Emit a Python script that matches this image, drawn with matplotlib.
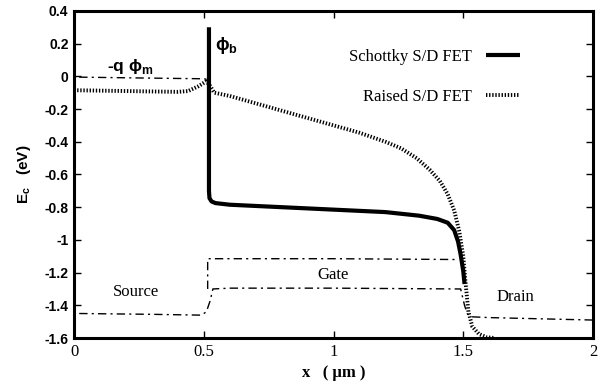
import matplotlib
matplotlib.use("Agg")
from matplotlib import pyplot as plt

# Schottky S/D FET conduction band
schottky_x = [0.52, 0.52, 0.522, 0.53, 0.545, 0.6, 0.8, 1.0, 1.2, 1.33, 1.40, 1.44, 1.465,
              1.48, 1.49, 1.50, 1.505]
schottky_y = [0.30, -0.70, -0.745, -0.765, -0.775, -0.785, -0.80, -0.815, -0.83, -0.852,
              -0.872, -0.895, -0.94, -1.01, -1.09, -1.19, -1.27]

# Raised S/D FET conduction band
raised_x = [0.0, 0.2, 0.40, 0.44, 0.48, 0.51, 0.525, 0.54, 0.6, 0.7, 0.8, 0.9, 1.0, 1.1,
            1.2, 1.26, 1.32, 1.37, 1.41, 1.44, 1.465, 1.485, 1.50, 1.51, 1.52, 1.535, 1.56,
            1.59, 1.62]
raised_y = [-0.085, -0.09, -0.095, -0.09, -0.06, -0.03, -0.06, -0.10, -0.12, -0.165, -0.21,
            -0.255, -0.30, -0.345, -0.40, -0.44, -0.50, -0.57, -0.64, -0.72, -0.82, -0.95,
            -1.10, -1.28, -1.44, -1.53, -1.575, -1.595, -1.60]

# metal work function level
phim_x = [0.02, 0.25, 0.50, 0.52]
phim_y = [-0.005, -0.01, -0.015, -0.02]

# device outline: source / channel / drain
outline_x = [0.02, 0.3, 0.49, 0.51, 0.525, 0.535, 0.6, 1.0, 1.49, 1.505, 1.515, 1.53, 1.6, 2.0]
outline_y = [-1.45, -1.455, -1.46, -1.44, -1.37, -1.30, -1.295, -1.295, -1.30, -1.40, -1.45,
             -1.47, -1.475, -1.49]

# gate outline
gate_x = [0.515, 0.515, 0.6, 1.0, 1.48]
gate_y = [-1.30, -1.115, -1.115, -1.115, -1.12]

xticks = [0, 0.5, 1, 1.5, 2]
xtick_labels = ["0", "0.5", "1", "1.5", "2"]
yticks = [0.4, 0.2, 0, -0.2, -0.4, -0.6, -0.8, -1, -1.2, -1.4, -1.6]
ytick_labels = ["0.4", "0.2", "0", "-0.2", "-0.4", "-0.6", "-0.8", "-1", "-1.2", "-1.4", "-1.6"]

serif = ["Liberation Serif", "DejaVu Serif"]
sans = ["Liberation Sans", "DejaVu Sans"]

fig = plt.figure(figsize=(6.02, 3.89), dpi=100)
ax = fig.add_axes([0.123, 0.131, 0.862, 0.841])

dashdot = (0, (6, 3, 1.5, 3))
ax.plot(phim_x, phim_y, color="black", lw=1.0, linestyle=dashdot)
ax.plot(outline_x, outline_y, color="black", lw=1.0, linestyle=dashdot)
ax.plot(gate_x, gate_y, color="black", lw=1.0, linestyle=dashdot)

ax.plot(schottky_x, schottky_y, color="black", lw=3.0, solid_capstyle="butt",
        label="Schottky S/D FET")
ax.plot(raised_x, raised_y, color="black", lw=2.8, linestyle=(0, (0.35, 0.45)),
        dash_capstyle="butt", label="Raised S/D FET")

ax.set_xlim(0, 2)
ax.set_ylim(-1.6, 0.4)
ax.set_xticks(xticks)
ax.set_xticklabels(xtick_labels, family=serif, fontsize=12)
ax.set_yticks(yticks)
ax.set_yticklabels(ytick_labels, family=sans, fontsize=10, fontweight="bold")
ax.tick_params(direction="in", length=5, width=1, top=True, right=True, pad=4)
for s in ax.spines.values():
    s.set_linewidth(2.2)

ax.set_xlabel("x   ( \u03bcm )", family=serif, fontsize=12, fontweight="bold")
ax.set_ylabel("E$_\\mathregular{c}$   (eV)", family=sans, fontsize=11, fontweight="bold",
              labelpad=8)

ax.text(0.215, 0.06, "-q \u03d5$_\\mathregular{m}$", family=sans, fontsize=12.5,
        fontweight="bold", ha="center", va="center")
ax.text(0.545, 0.19, "\u03d5$_\\mathregular{b}$", family=sans, fontsize=13,
        fontweight="bold", ha="left", va="center")
ax.text(0.24, -1.32, "Source", family=serif, fontsize=12, ha="center", va="center")
ax.text(1.0, -1.215, "Gate", family=serif, fontsize=12, ha="center", va="center")
ax.text(1.7, -1.35, "Drain", family=serif, fontsize=12, ha="center", va="center")

leg = ax.legend(loc="upper right", bbox_to_anchor=(0.875, 0.91), frameon=False,
                markerfirst=False, borderpad=0, handlelength=2.0, handletextpad=0.9,
                labelspacing=1.45, prop={"family": serif, "size": 12})

fig.savefig("out.png", dpi=100)
